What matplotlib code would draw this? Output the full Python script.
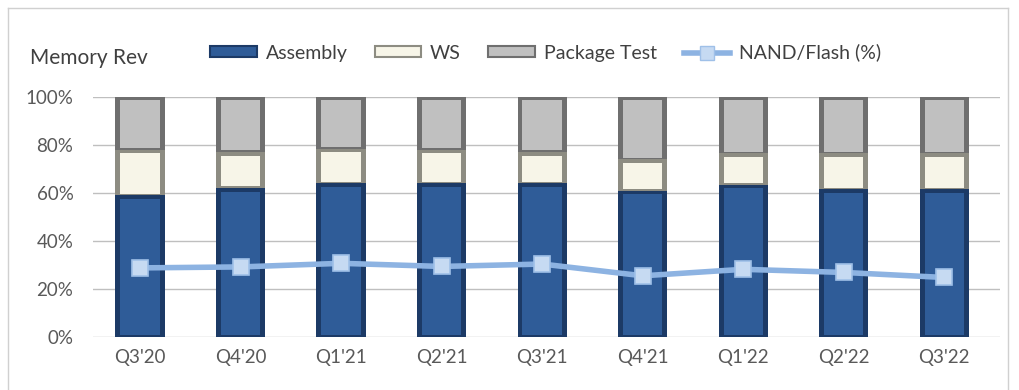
import matplotlib
matplotlib.use("Agg")
import matplotlib.pyplot as plt
from matplotlib.lines import Line2D
from matplotlib.patches import Rectangle
from matplotlib.ticker import FuncFormatter

plt.rcParams['font.family'] = ['Lato', 'DejaVu Sans']

quarters = ["Q3'20", "Q4'20", "Q1'21", "Q2'21", "Q3'21", "Q4'21", "Q1'22", "Q2'22", "Q3'22"]
assembly = [59, 62, 64, 64, 64, 61, 63.5, 61.5, 61.5]
ws = [19, 15, 14.5, 14, 13, 13, 13, 15, 15]
package_test = [100 - a - w for a, w in zip(assembly, ws)]
nand_flash = [28.8, 29.2, 30.7, 29.4, 30.4, 25.5, 28.2, 26.9, 24.8]

# (edge shade, face shade) for each stack segment
styles = {
    'Assembly': ('#1c3a66', '#2f5c98'),
    'WS': ('#8d8c82', '#f7f5e8'),
    'Package Test': ('#6f6f6f', '#c0c0c0'),
}
text_color = '#404040'
tick_color = '#595959'

fig = plt.figure(figsize=(10.2, 3.9), dpi=100)
ax = fig.add_axes([0.091, 0.136, 0.889, 0.615])

x = list(range(len(quarters)))
width = 0.49
bottoms = [0] * len(x)
for name, vals in [('Assembly', assembly), ('WS', ws), ('Package Test', package_test)]:
    edge, face = styles[name]
    ax.bar(x, vals, width, bottom=bottoms, color=edge, zorder=2)
    # bevelled inner face
    ax.bar(x, [v - 2.2 for v in vals], width * 0.8,
           bottom=[b + 0.8 for b in bottoms], color=face, zorder=3)
    bottoms = [b + v for b, v in zip(bottoms, vals)]

ax.plot(x, nand_flash, color='#8db3e2', lw=4, zorder=4,
        marker='s', markersize=12, markerfacecolor='#c6daf2',
        markeredgecolor='#9fc0e8', markeredgewidth=1.2)

ax.set_xlim(-0.47, 8.55)
ax.set_ylim(0, 100)
ax.set_yticks(range(0, 101, 20))
ax.yaxis.set_major_formatter(FuncFormatter(lambda v, p: f'{int(v)}%'))
ax.set_xticks(x)
ax.set_xticklabels(quarters)
ax.tick_params(length=0, labelsize=13.5, colors=tick_color, pad=9)
ax.tick_params(axis='y', pad=14)
ax.grid(axis='y', color='#bfbfbf', lw=1, zorder=0)
ax.set_axisbelow(True)
for s in ax.spines.values():
    s.set_visible(False)

fig.text(0.029, 0.85, 'Memory Rev', fontsize=15, color=text_color, va='center')

handles = [
    Rectangle((0, 0), 1, 1, facecolor=styles['Assembly'][1], edgecolor=styles['Assembly'][0], lw=1.5),
    Rectangle((0, 0), 1, 1, facecolor=styles['WS'][1], edgecolor=styles['WS'][0], lw=1.5),
    Rectangle((0, 0), 1, 1, facecolor=styles['Package Test'][1], edgecolor=styles['Package Test'][0], lw=1.5),
    Line2D([], [], color='#8db3e2', lw=4, marker='s', markersize=10,
           markerfacecolor='#c6daf2', markeredgecolor='#9fc0e8'),
]
fig.legend(handles, ['Assembly', 'WS', 'Package Test', 'NAND/Flash (%)'],
           loc='center left', bbox_to_anchor=(0.206, 0.865), ncol=4, frameon=False,
           fontsize=14, labelcolor=text_color, handlelength=2.4, handleheight=0.45,
           columnspacing=1.4, handletextpad=0.45, borderaxespad=0, borderpad=0)

# outer frame
frame = dict(color='#d0d0d0', lw=1, transform=fig.transFigure)
fig.add_artist(Line2D([0.008, 0.008], [0, 0.98], **frame))
fig.add_artist(Line2D([0.008, 0.988], [0.98, 0.98], **frame))
fig.add_artist(Line2D([0.988, 0.988], [0, 0.98], **frame))

fig.savefig('out.png', dpi=100)
